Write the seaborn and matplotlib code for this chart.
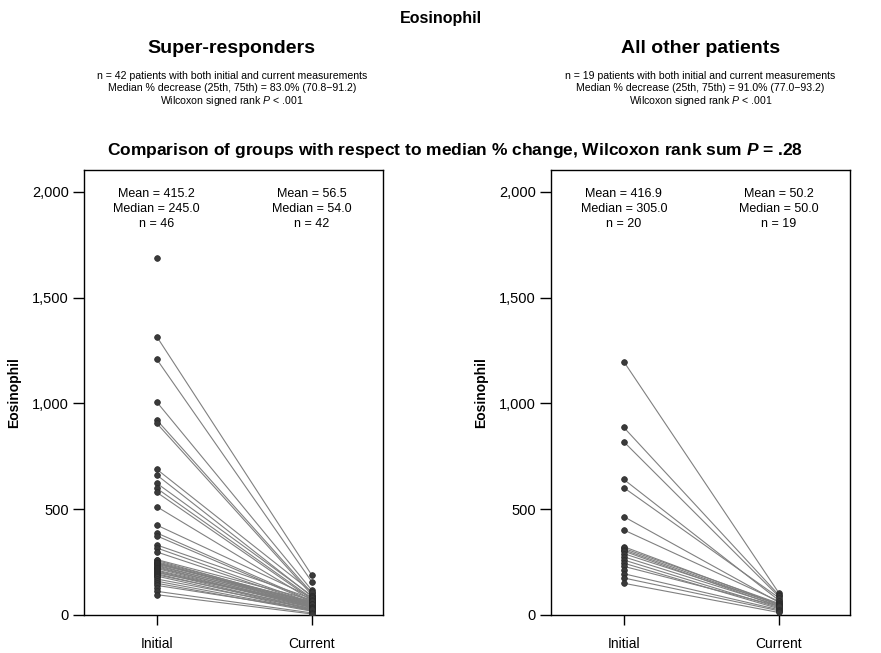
import numpy as np
import pandas as pd
import matplotlib
matplotlib.use("Agg")
import matplotlib.pyplot as plt
import seaborn as sns
from matplotlib.ticker import FuncFormatter

nan = np.nan

# Super-responders: initial values (46) and paired current values (42, nan = no current)
init_sr = [1686, 1316, 1209, 1007, 922, 906, 689, 662, 623, 599, 580, 512, 425, 388, 374, 331,
           317, 298, 262, 258, 252, 248, 246, 244, 240, 236, 232, 228, 224, 220, 216, 212,
           208, 204, 200, 195, 190, 184, 178, 170, 160, 150, 140, 128, 112, 96]
curr_sr = [nan, 189, 158, 118, 105, 96, 110, 88, 92, 80, 75, 70, 84, 66, 62, 78,
           58, 55, 72, 54, 60, 50, 56, 48, 64, 45, 52, 40, 44, 35, nan, 42,
           38, 28, 54, 25, 36, 20, nan, 32, 22, 18, 26, nan, 10, 5]

# All other patients: initial (20) and current (19)
init_ot = [1198, 887, 819, 641, 602, 465, 402, 323, 315, 308, 302, 290, 275, 260, 245, 230,
           215, 195, 175, 150]
curr_ot = [105, 95, 88, 70, 82, 60, 65, 50, 55, 48, 40, 52, 45, 35, 30, 42, nan, 25, 20, 12]

times = ["Initial", "Current"]

stats_sr = [["Mean = 415.2", "Median = 245.0", "n = 46"],
            ["Mean = 56.5", "Median = 54.0", "n = 42"]]
stats_ot = [["Mean = 416.9", "Median = 305.0", "n = 20"],
            ["Mean = 50.2", "Median = 50.0", "n = 19"]]

head_sr = ["n = 42 patients with both initial and current measurements",
           "Median % decrease (25th, 75th) = 83.0% (70.8\u221291.2)",
           "Wilcoxon signed rank $P$ < .001"]
head_ot = ["n = 19 patients with both initial and current measurements",
           "Median % decrease (25th, 75th) = 91.0% (77.0\u221293.2)",
           "Wilcoxon signed rank $P$ < .001"]

sns.set_theme(style="white")
plt.rcParams["font.family"] = ["Liberation Sans", "DejaVu Sans"]
plt.rcParams["text.color"] = "black"
plt.rcParams["axes.labelcolor"] = "black"
plt.rcParams["xtick.color"] = "black"
plt.rcParams["ytick.color"] = "black"
plt.rcParams["mathtext.fontset"] = "custom"
plt.rcParams["mathtext.rm"] = "Liberation Sans"
plt.rcParams["mathtext.it"] = "Liberation Sans:italic"
plt.rcParams["mathtext.bf"] = "Liberation Sans:bold"
plt.rcParams["mathtext.bfit"] = "Liberation Sans:italic:bold"


def long_df(init, curr):
    rows = []
    for i, (a, b) in enumerate(zip(init, curr)):
        rows.append({"pid": i, "x": 0, "value": a})
        if not np.isnan(b):
            rows.append({"pid": i, "x": 1, "value": b})
    return pd.DataFrame(rows)


def panel(ax, init, curr, stats):
    df = long_df(init, curr)
    sns.lineplot(data=df, x="x", y="value", units="pid", estimator=None,
                 color="#808080", linewidth=0.8, ax=ax, legend=False)
    sns.scatterplot(data=df, x="x", y="value", color="#3a3a3a", s=17,
                    edgecolor="#2a2a2a", linewidth=0.5, ax=ax, legend=False, zorder=3)
    ax.set_xlim(-0.47, 1.46)
    ax.set_ylim(0, 2104)
    ax.set_xticks([0, 1])
    ax.set_xticklabels(times, fontsize=10)
    ax.set_yticks([0, 500, 1000, 1500, 2000])
    ax.yaxis.set_major_formatter(FuncFormatter(lambda v, p: f"{int(v):,}"))
    ax.tick_params(axis="y", labelsize=10.5, length=8, width=1,
                   left=True, direction="out", pad=3)
    ax.tick_params(axis="x", length=7, width=1, bottom=True,
                   direction="out", pad=9)
    ax.set_xlabel("")
    ax.set_ylabel("Eosinophil", fontsize=10, fontweight="bold", labelpad=8)
    for sp in ax.spines.values():
        sp.set_color("black")
        sp.set_linewidth(1)
    for xi, lines in enumerate(stats):
        for k, t in enumerate(lines):
            ax.text(xi, 1990 - k * 71, t, ha="center", va="center", fontsize=9)


fig = plt.figure(figsize=(8.81, 6.53), dpi=100)
ax1 = fig.add_axes([0.0953, 0.0582, 0.3394, 0.6815])
ax2 = fig.add_axes([0.6254, 0.0582, 0.3394, 0.6815])
panel(ax1, init_sr, curr_sr, stats_sr)
panel(ax2, init_ot, curr_ot, stats_ot)

fig.text(0.5, 0.972, "Eosinophil", ha="center", va="center", fontsize=11.5, fontweight="bold")
fig.text(0.263, 0.926, "Super-responders", ha="center", va="center", fontsize=14, fontweight="bold")
fig.text(0.795, 0.926, "All other patients", ha="center", va="center", fontsize=14, fontweight="bold")
for k, (a, b) in enumerate(zip(head_sr, head_ot)):
    yy = 0.884 - k * 0.0195
    fig.text(0.263, yy, a, ha="center", va="center", fontsize=7.6)
    fig.text(0.795, yy, b, ha="center", va="center", fontsize=7.6)
fig.text(0.517, 0.770,
         "Comparison of groups with respect to median % change, Wilcoxon rank sum $\\mathbfit{P}$ = .28",
         ha="center", va="center", fontsize=12.5, fontweight="bold")

fig.savefig("out.png", dpi=100)
